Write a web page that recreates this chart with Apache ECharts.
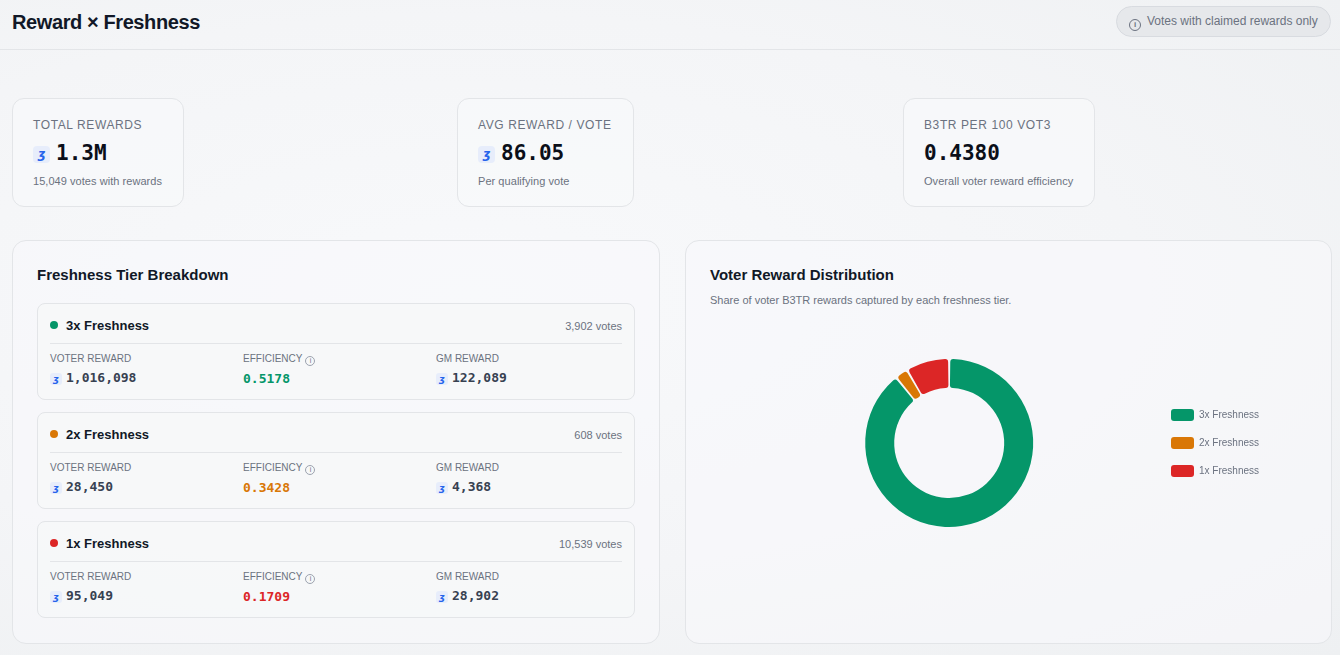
<!DOCTYPE html>
<html lang="en">
<head>
    <meta charset="UTF-8">
    <script src="https://cdn.jsdelivr.net/npm/echarts@6/dist/echarts.min.js"></script>
    <style>
        * {box-sizing: border-box;}
        body {margin:0; width:1340px; height:655px; overflow:hidden; font-family:"Liberation Sans", Arial, sans-serif; color:#111827;
              background: radial-gradient(ellipse at 35% 45%, #f8f9fb 0%, #f4f5f7 55%, #eef0f2 100%);}
        .mono {font-family:"DejaVu Sans Mono", monospace; font-weight:bold;}
        .head {height:50px; border-bottom:1px solid #e3e5e8; position:relative;}
        .head h1 {margin:0; position:absolute; left:12px; top:10px; font-size:20px; line-height:24px; letter-spacing:-0.4px;}
        .pill {position:absolute; right:9px; top:6px; height:31px; padding:0 12px 0 12px; border-radius:16px; background:#e6e8eb;
               border:1px solid #d8dbe0; font-size:12px; color:#6b7280; line-height:29px; width:215px;}
        .info {display:inline-block; width:12px; height:12px; border:1px solid #6b7280; border-radius:50%; font-size:8px; line-height:10px;
               text-align:center; vertical-align:-2px; margin-right:6px; font-weight:bold;}
        .stat {position:absolute; top:98px; height:109px; border:1px solid #e3e5e8; border-radius:12px; background:rgba(248,249,251,0.7);
               padding:18px 21px 0 20px;}
        .stat .lbl {font-size:12px; line-height:16px; color:#6b7280; letter-spacing:0.6px;}
        .stat .val {font-size:21px; line-height:26px; margin-top:7px; color:#0b0f19;}
        .stat .sub {font-size:11px; line-height:14px; color:#6b7280; margin-top:8px; letter-spacing:0.05px;}
        .coin {display:inline-block; width:17px; height:17px; border-radius:4px; background:#e7edfb; color:#2563eb; font-size:12px;
               line-height:17px; text-align:center; font-style:italic; font-family:"DejaVu Sans", sans-serif; vertical-align:2px; margin-right:6px; font-weight:bold;}
        .coin.sm {width:12px; height:12px; font-size:9px; line-height:12px; border-radius:3px; margin-right:4px; vertical-align:0;}
        .panel {position:absolute; top:240px; height:404px; border:1px solid #e3e5e8; border-radius:14px; background:rgba(248,249,251,0.6);
                padding:24px 24px;}
        .panel h2 {margin:0; font-size:15px; line-height:20px;}
        .panel .desc {font-size:11px; color:#6b7280; line-height:14px; margin-top:8px;}
        .tier {border:1px solid #e3e5e8; border-radius:8px; background:rgba(246,247,249,0.8); padding:12px 12px 0 12px; height:97px; margin-top:12px;}
        .tier:first-of-type {margin-top:18px;}
        .tier .top {height:28px; border-bottom:1px solid #e3e5e8; position:relative; font-size:13px; line-height:20px; font-weight:bold;}
        .tier .dot {display:inline-block; width:8px; height:8px; border-radius:50%; margin:0 8px 0 0; vertical-align:1px;}
        .tier .votes {position:absolute; right:0; top:0; font-size:11px; font-weight:normal; color:#6b7280;}
        .tier .cols {display:flex; margin-top:9px;}
        .tier .col {width:193px; flex-shrink:0;}
        .tier .cl {font-size:10px; line-height:12px; color:#6b7280;}
        .tier .cv {font-size:13px; line-height:18px; margin-top:4px; color:#374151;}
        .tier .i2 {display:inline-block; width:10px; height:10px; border:1px solid #9ca3af; border-radius:50%; font-size:7px; line-height:8px;
                   text-align:center; color:#6b7280; vertical-align:-1px; margin-left:3px;}
        #chart {position:absolute; left:24px; top:70px; width:598px; height:264px;}
    </style>
    <title>Reward × Freshness</title>
</head>
<body>
    <div class="head">
        <h1>Reward × Freshness</h1>
        <div class="pill"><span class="info">i</span>Votes with claimed rewards only</div>
    </div>

    <div class="stat" style="left:12px;">
        <div class="lbl">TOTAL REWARDS</div>
        <div class="val mono"><span class="coin">ʒ</span>1.3M</div>
        <div class="sub">15,049 votes with rewards</div>
    </div>
    <div class="stat" style="left:457px;">
        <div class="lbl">AVG REWARD / VOTE</div>
        <div class="val mono"><span class="coin">ʒ</span>86.05</div>
        <div class="sub">Per qualifying vote</div>
    </div>
    <div class="stat" style="left:903px;">
        <div class="lbl">B3TR PER 100 VOT3</div>
        <div class="val mono">0.4380</div>
        <div class="sub">Overall voter reward efficiency</div>
    </div>

    <div class="panel" style="left:12px; width:648px;">
        <h2>Freshness Tier Breakdown</h2>
        <div id="tiers"></div>
    </div>
    <div class="panel" style="left:685px; width:647px;">
        <h2>Voter Reward Distribution</h2>
        <div class="desc">Share of voter B3TR rewards captured by each freshness tier.</div>
        <div id="chart"></div>
    </div>

    <script>
        // 数据
        const tierNames = ['3x Freshness', '2x Freshness', '1x Freshness'];
        const tierColors = ['#059669', '#d97706', '#dc2626'];
        const tierVotes = ['3,902', '608', '10,539'];
        const voterReward = [1016098, 28450, 95049];
        const efficiency = ['0.5178', '0.3428', '0.1709'];
        const gmReward = [122089, 4368, 28902];

        const fmt = n => n.toLocaleString('en-US');

        let html = '';
        tierNames.forEach((name, i) => {
            html += `<div class="tier">
                <div class="top"><span class="dot" style="background:${tierColors[i]}"></span>${name}<span class="votes">${tierVotes[i]} votes</span></div>
                <div class="cols">
                    <div class="col"><div class="cl">VOTER REWARD</div><div class="cv mono"><span class="coin sm">ʒ</span>${fmt(voterReward[i])}</div></div>
                    <div class="col"><div class="cl">EFFICIENCY<span class="i2">i</span></div><div class="cv mono" style="color:${tierColors[i]}">${efficiency[i]}</div></div>
                    <div class="col"><div class="cl">GM REWARD</div><div class="cv mono"><span class="coin sm">ʒ</span>${fmt(gmReward[i])}</div></div>
                </div>
            </div>`;
        });
        document.getElementById('tiers').innerHTML = html;

        let chart = echarts.init(document.getElementById('chart'));
        chart.setOption({
            legend: {
                orient: 'vertical',
                left: 461,
                top: 'middle',
                padding: 0,
                icon: 'roundRect',
                itemWidth: 23,
                itemHeight: 12,
                itemGap: 16,
                textStyle: {fontSize: 10, color: '#6b7280', fontFamily: 'Liberation Sans'},
                data: tierNames
            },
            series: [{
                type: 'pie',
                center: ['40%', '50%'],
                radius: [55, 84],
                startAngle: 90,
                padAngle: 1.5,
                label: {show: false},
                labelLine: {show: false},
                itemStyle: {borderRadius: 3},
                data: tierNames.map((name, i) => ({name: name, value: voterReward[i], itemStyle: {color: tierColors[i]}}))
            }]
        });
    </script>
</body>
</html>
